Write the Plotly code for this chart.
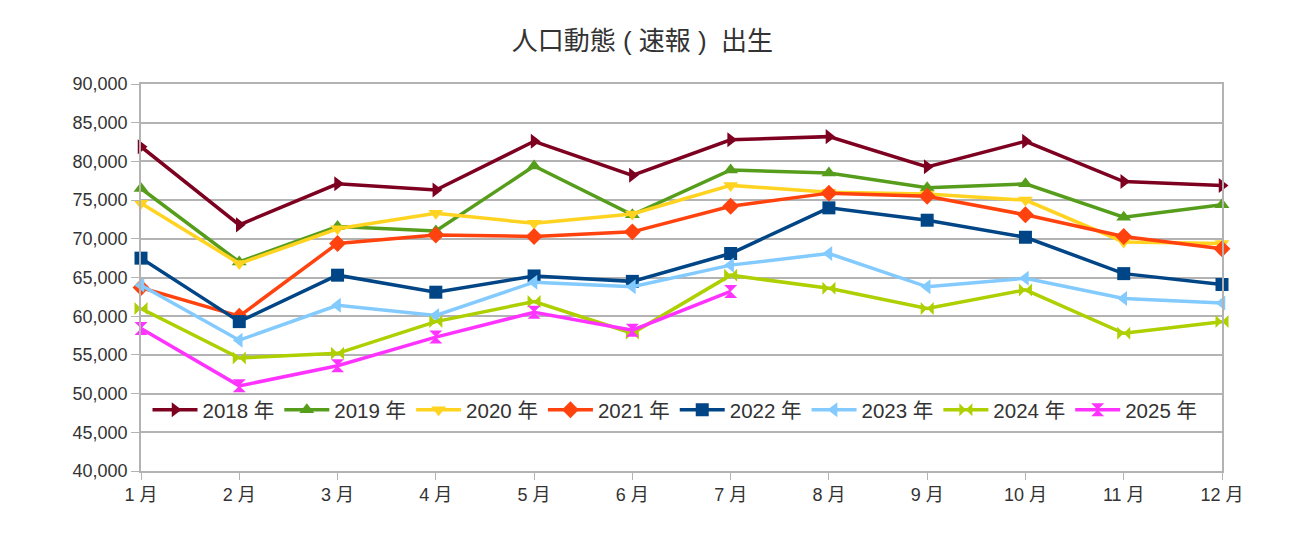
import plotly.graph_objects as go

months = ["1 月", "2 月", "3 月", "4 月", "5 月", "6 月", "7 月", "8 月", "9 月", "10 月", "11 月", "12 月"]

y2018 = [81900, 71800, 77100, 76300, 82600, 78200, 82800, 83200, 79300, 82600, 77400, 76900]
y2019 = [76500, 67000, 71600, 71000, 79400, 73100, 78900, 78500, 76600, 77100, 72800, 74400]
y2020 = [74600, 66800, 71300, 73300, 72000, 73200, 76900, 76000, 75800, 75000, 69600, 69400]
y2021 = [63700, 60000, 69400, 70500, 70300, 70900, 74200, 75900, 75500, 73100, 70300, 68700]
y2022 = [67500, 59300, 65300, 63100, 65200, 64500, 68100, 74000, 72400, 70200, 65500, 64100]
y2023 = [64000, 56900, 61400, 60100, 64400, 63800, 66600, 68100, 63800, 64900, 62300, 61700]
y2024 = [61000, 54600, 55200, 59300, 61900, 57800, 65300, 63600, 61000, 63400, 57800, 59300]
y2025 = [58400, 51000, 53600, 57300, 60500, 58200, 63200]

series = [
    ("2018 年", y2018, "#7e0021", "triangle-right"),
    ("2019 年", y2019, "#579d1c", "triangle-up"),
    ("2020 年", y2020, "#ffd320", "triangle-down"),
    ("2021 年", y2021, "#ff420e", "diamond"),
    ("2022 年", y2022, "#004586", "square"),
    ("2023 年", y2023, "#83caff", "triangle-left"),
    ("2024 年", y2024, "#aecf00", "bowtie"),
    ("2025 年", y2025, "#ff33ff", "hourglass"),
]

fig = go.Figure()
for name, vals, color, sym in series:
    fig.add_trace(go.Scatter(
        x=months[:len(vals)], y=vals, name=name, mode="lines+markers",
        line=dict(color=color, width=3.5),
        marker=dict(symbol=sym, size=13, color=color, line=dict(width=0)),
        cliponaxis=False,
    ))

font_family = "Liberation Sans, Noto Sans CJK JP, sans-serif"
grid = "#b3b3b3"

fig.update_layout(
    width=1300, height=551,
    margin=dict(l=133, r=86, t=76, b=88),
    paper_bgcolor="white", plot_bgcolor="white",
    font=dict(family=font_family, size=18, color="#333333"),
    title=dict(text="人口動態 ( 速報 )  出生", x=0.488, xanchor="center", y=0.94, yanchor="middle",
               font=dict(size=26, color="#333333", family=font_family)),
    showlegend=True,
    legend=dict(orientation="h", x=0.006, xanchor="left", y=0.158, yanchor="middle",
                bgcolor="rgba(0,0,0,0)", font=dict(size=20.5, color="#333333"),
                itemwidth=45, tracegroupgap=0),
    xaxis=dict(type="category", range=[0, 11], showgrid=False,
               showline=True, linecolor=grid, linewidth=1.5, mirror=True,
               ticks="outside", ticklen=7, tickcolor=grid,
               tickfont=dict(size=18, color="#333333")),
    yaxis=dict(range=[40000, 90000], dtick=5000, tickformat=",d",
               showgrid=True, gridcolor=grid, gridwidth=1.5,
               showline=True, linecolor=grid, linewidth=1.5, mirror=True,
               ticks="outside", ticklen=8, tickcolor=grid, zeroline=False,
               tickfont=dict(size=18, color="#333333")),
)

fig.write_html("out.html")
